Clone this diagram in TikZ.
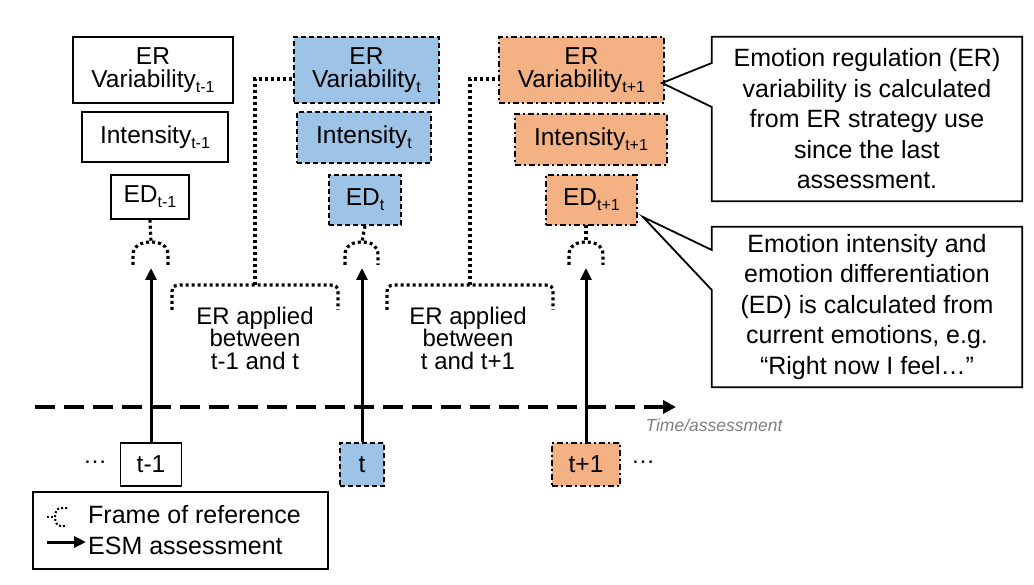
\documentclass[tikz,border=0pt]{standalone}
\usepackage{fontspec}
\setmainfont{Liberation Sans}
\usetikzlibrary{arrows.meta}
\newcommand{\subs}[1]{\raisebox{-5pt}{\fontsize{16}{16}\selectfont #1}}
\definecolor{tblue}{HTML}{9DC3E6}
\definecolor{torange}{HTML}{F4B183}
\tikzset{
  box/.style={draw,line width=1.5pt,inner sep=0pt,align=center,font=\fontsize{24.5}{23}\selectfont},
  boxA/.style={box,fill=white},
  boxB/.style={box,fill=tblue,dash pattern=on 5pt off 3pt},
  boxC/.style={box,fill=torange,dash pattern=on 6pt off 3pt on 2pt off 3pt},
  frame/.style={line width=3.2pt,dash pattern=on 3pt off 3pt},
  esm/.style={line width=3pt,-{Triangle[length=12pt,width=11pt]}},
  timeline/.style={line width=3.5pt,dash pattern=on 20pt off 9pt,-{Triangle[length=13pt,width=13pt]}},
  note/.style={line width=1.8pt,line join=miter},
  txt/.style={align=center,inner sep=0pt,font=\fontsize{24}{22.5}\selectfont},
  notetxt/.style={align=center,inner sep=0pt,minimum width=310,font=\fontsize{25}{30.5}\selectfont}
}
\begin{document}
\begin{tikzpicture}[x=1pt,y=-1pt]
\useasboundingbox (0,0) rectangle (1034,585);
% measures at t-1, t, t+1
\node[boxA,minimum width=160,minimum height=66] (varA) at (153,70) {ER\\Variability\subs{t-1}};
\node[boxA,minimum width=146,minimum height=50] (intA) at (155,137) {Intensity\subs{t-1}};
\node[boxA,minimum width=78,minimum height=44] (edA) at (150,197) {ED\subs{t-1}};
\node[boxB,minimum width=145,minimum height=66] (varB) at (366.5,70) {ER\\Variability\subs{t}};
\node[boxB,minimum width=134,minimum height=51] (intB) at (364,137.5) {Intensity\subs{t}};
\node[boxB,minimum width=72,minimum height=50] (edB) at (365,200) {ED\subs{t}};
\node[boxC,minimum width=165,minimum height=66] (varC) at (581.5,70) {ER\\Variability\subs{t+1}};
\node[boxC,minimum width=152,minimum height=51] (intC) at (591,139.5) {Intensity\subs{t+1}};
\node[boxC,minimum width=91,minimum height=50] (edC) at (591.5,200) {ED\subs{t+1}};
% frames of reference
\coordinate (fA) at (151,268);
\coordinate (fB) at (362,268);
\coordinate (fC) at (586,268);
\draw[frame] (edA.south) -- (151,242);
\draw[frame] (133,265) -- (133,255) .. controls (133,246) and (141,242) .. (151,242) .. controls (161,242) and (168,246) .. (168,255) -- (168,265);
\draw[frame] (edB.south) -- (362,242);
\draw[frame] (345,265) -- (345,255) .. controls (345,246) and (352,242) .. (362,242) .. controls (372,242) and (378,246) .. (378,255) -- (378,265);
\draw[frame] (586,225) -- (586,242);
\draw[frame] (569,265) -- (569,255) .. controls (569,246) and (576,242) .. (586,242) .. controls (596,242) and (603,246) .. (603,255) -- (603,265);
\draw[frame] (172,310) -- (172,292) .. controls (172,287) and (174,285) .. (180,285) -- (330,285) .. controls (336,285) and (338,287) .. (338,292) -- (338,310);
\draw[frame] (255,285) |- ([yshift=-9pt]varB.west);
\draw[frame] (387,310) -- (387,292) .. controls (387,287) and (389,285) .. (395,285) -- (545,285) .. controls (551,285) and (553,287) .. (553,292) -- (553,310);
\draw[frame] (470,285) |- ([yshift=-9pt]varC.west);
\node[txt] (appAB) at (255,338) {ER applied\\between\\t-1 and t};
\node[txt] (appBC) at (468,338) {ER applied\\between\\t and t+1};
% time line
\coordinate (tl0) at (35,407);
\coordinate (tl1) at (676,407);
\draw[timeline] (tl0) -- (tl1);
\node[font=\fontsize{17.5}{18}\selectfont\itshape,text=gray] (tlLabel) at (714,425) {Time/assessment};
% assessments
\node[boxA,minimum width=61,minimum height=43] (tA) at (151,464.5) {t-1};
\node[boxB,minimum width=44,minimum height=43] (tB) at (362,464.5) {t};
\node[boxC,minimum width=68,minimum height=43] (tC) at (586,464.5) {t+1};
\draw[esm] (tA.north) -- (fA);
\draw[esm] (tB.north) -- (fB);
\draw[esm] (tC.north) -- (fC);
\node[txt] (dotsL) at (95,462) {…};
\node[txt] (dotsR) at (643,462) {…};
% notes
\node[notetxt,minimum height=164] (noteA) at (867,119) {Emotion regulation (ER)\\variability is calculated\\from ER strategy use\\since the last\\assessment.};
\coordinate (tipA) at (662,83);
\draw[note] (noteA.north west) -- (noteA.north east) -- (noteA.south east) -- (noteA.south west) -- ([yshift=12pt]noteA.west) -- (tipA) -- ([yshift=56pt]noteA.west) -- cycle;
\node[notetxt,minimum height=160] (noteB) at (867,307) {Emotion intensity and\\emotion differentiation\\(ED) is calculated from\\current emotions, e.g.\\“Right now I feel…”};
\coordinate (tipB) at (643,217);
\draw[note] (noteB.north west) -- (noteB.north east) -- (noteB.south east) -- (noteB.south west) -- ([yshift=17pt]noteB.west) -- (tipB) -- ([yshift=57pt]noteB.west) -- cycle;
% legend
\node[draw,line width=1.5pt,minimum width=295,minimum height=77,inner sep=0pt] (legend) at (180.5,530.5) {};
\node[anchor=west,inner sep=2pt,font=\fontsize{25}{25}\selectfont] (lgFrame) at (86,515) {Frame of reference};
\node[anchor=west,inner sep=2pt,font=\fontsize{25}{25}\selectfont] (lgEsm) at (86,546) {ESM assessment};
\draw[line width=2pt,dash pattern=on 2pt off 2pt] (47,517) -- (55,517);
\draw[line width=2pt,dash pattern=on 2pt off 2pt] (67,508) -- (61,508) .. controls (57,508) and (55,512) .. (55,517) .. controls (55,522) and (57,526) .. (61,526) -- (67,526);
\coordinate (lgTail) at (47,542);
\draw[esm] (lgTail) -- (lgEsm.west |- lgTail);
\end{tikzpicture}
\end{document}
